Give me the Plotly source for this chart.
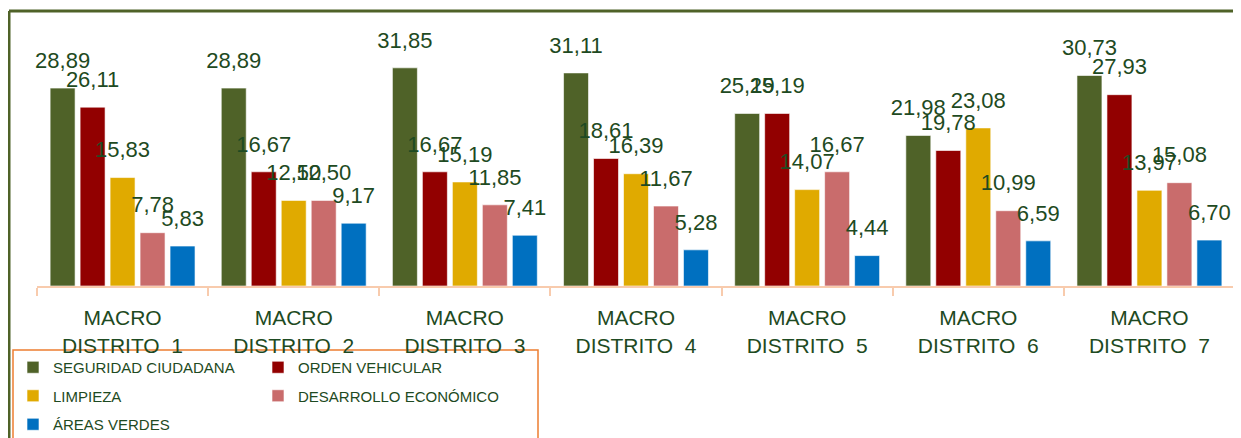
import plotly.graph_objects as go

categories = ["MACRO<br>DISTRITO\u00a0\u00a01", "MACRO<br>DISTRITO\u00a0\u00a02", "MACRO<br>DISTRITO\u00a0\u00a03",
              "MACRO<br>DISTRITO\u00a0\u00a04", "MACRO<br>DISTRITO\u00a0\u00a05", "MACRO<br>DISTRITO\u00a0\u00a06",
              "MACRO<br>DISTRITO\u00a0\u00a07"]
series_names = ["SEGURIDAD CIUDADANA", "ORDEN VEHICULAR", "LIMPIEZA", "DESARROLLO ECONÓMICO", "ÁREAS VERDES"]
seguridad = [28.89, 28.89, 31.85, 31.11, 25.19, 21.98, 30.73]
orden = [26.11, 16.67, 16.67, 18.61, 25.19, 19.78, 27.93]
limpieza = [15.83, 12.50, 15.19, 16.39, 14.07, 23.08, 13.97]
desarrollo = [7.78, 12.50, 11.85, 11.67, 16.67, 10.99, 15.08]
areas = [5.83, 9.17, 7.41, 5.28, 4.44, 6.59, 6.70]
colors = ["#4F6228", "#920000", "#E0AA00", "#C96C6C", "#0070C0"]
legend_column = ["legend", "legend2", "legend", "legend2", "legend"]

values = [seguridad, orden, limpieza, desarrollo, areas]
TXT = "#1E4A22"
FONT = "Liberation Sans Narrow, Arial Narrow, Liberation Sans, Arial"

fig = go.Figure()
for i, (name, vals, col, lg) in enumerate(zip(series_names, values, colors, legend_column)):
    fig.add_trace(go.Bar(
        x=categories, y=vals, name=name, legend=lg, legendgroup=f"g{i}",
        marker=dict(color=col, line=dict(color="rgba(255,255,255,0.6)", width=1)),
        hoverinfo="skip",
    ))
for name, vals in zip(series_names, values):
    fig.add_trace(go.Scatter(
        x=categories, y=vals, mode="markers+text",
        marker=dict(size=22, opacity=0),
        texttemplate="%{y:.2f}", textposition="top center",
        textfont=dict(size=22, color=TXT, family=FONT),
        showlegend=False, hoverinfo="skip", cliponaxis=False,
    ))

# Page body adds 8px offset; plot area spans x 37..1235, y 12..286 on screen
W, H = 1233, 430
ML, MT, MR = 29, 4, 6
PH = 274
PW = W - ML - MR


def px_x(p):
    return (p - 37) / PW


def px_y(p):
    return (286 - p) / PH


def cont_y(p):
    return 1 - (p - 8) / H


legend_common = dict(
    orientation="v", yanchor="top", xanchor="left", yref="container",
    bgcolor="rgba(255,255,255,0)", borderwidth=0,
    font=dict(size=15, color=TXT, family=FONT),
    tracegroupgap=6, traceorder="grouped",
)

fig.update_layout(
    width=W, height=H,
    margin=dict(l=ML, r=MR, t=MT, b=H - MT - PH, autoexpand=False),
    paper_bgcolor="white", plot_bgcolor="white",
    barmode="group", scattermode="group",
    bargap=0.124, bargroupgap=0.167, scattergap=0.124,
    separators=",.",
    showlegend=True,
    legend=dict(x=px_x(13), y=cont_y(351), **legend_common),
    legend2=dict(x=px_x(258), y=cont_y(351), **legend_common),
    font=dict(family=FONT, color=TXT),
)
fig.update_xaxes(
    showline=True, linecolor="#F8CBAD", linewidth=2,
    ticks="outside", tickson="boundaries", ticklen=8, tickcolor="#F8CBAD", tickwidth=1.5,
    tickfont=dict(size=21, color=TXT, family=FONT), ticklabelstandoff=12,
    showgrid=False, automargin=False,
)
fig.update_yaxes(range=[0, 40], visible=False, showgrid=False)

# outer chart border (top + left)
fig.add_shape(type="line", xref="paper", yref="paper",
              x0=px_x(9), x1=px_x(1250), y0=px_y(11), y1=px_y(11),
              line=dict(color="#4F6228", width=3))
fig.add_shape(type="line", xref="paper", yref="paper",
              x0=px_x(9), x1=px_x(9), y0=px_y(11), y1=px_y(460),
              line=dict(color="#4F6228", width=3))
# legend box
fig.add_shape(type="rect", xref="paper", yref="paper",
              x0=px_x(13), x1=px_x(538), y0=px_y(350), y1=px_y(460),
              line=dict(color="#ED7D31", width=1.5), layer="below")

fig.write_html("out.html")
